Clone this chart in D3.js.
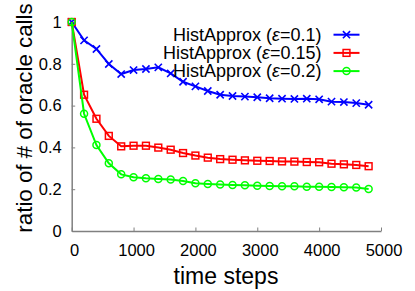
<!DOCTYPE html>
<html lang="en">

<head>
  <meta charset="UTF-8">
  <title>HistApprox oracle calls</title>
  <script src="https://cdn.jsdelivr.net/npm/d3@7.9.0/dist/d3.min.js"></script>
  <style>
    html,
    body {
      margin: 0;
      padding: 0;
      background: #fff;
    }

    svg {
      display: block;
      font-family: "Liberation Sans", Arial, sans-serif;
    }
  </style>
</head>

<body>
  <svg id="chart" width="415" height="291"></svg>

  <script>
    // time steps (x), one point every 200 steps
    const steps = [0, 200, 400, 600, 800, 1000, 1200, 1400, 1600, 1800, 2000, 2200, 2400,
      2600, 2800, 3000, 3200, 3400, 3600, 3800, 4000, 4200, 4400, 4600, 4800];

    // ratio of # of oracle calls
    const eps01 = [1.0, 0.912, 0.871, 0.799, 0.751, 0.770, 0.775, 0.783, 0.754, 0.714, 0.692, 0.670, 0.652,
      0.646, 0.643, 0.640, 0.635, 0.633, 0.632, 0.633, 0.630, 0.619, 0.617, 0.612, 0.604];
    const eps015 = [1.0, 0.652, 0.537, 0.455, 0.405, 0.408, 0.408, 0.399, 0.389, 0.373, 0.361, 0.351, 0.344,
      0.341, 0.338, 0.336, 0.335, 0.333, 0.332, 0.330, 0.329, 0.322, 0.319, 0.316, 0.310];
    const eps02 = [1.0, 0.561, 0.411, 0.324, 0.271, 0.257, 0.252, 0.249, 0.246, 0.239, 0.228, 0.225, 0.222,
      0.220, 0.219, 0.217, 0.215, 0.214, 0.214, 0.212, 0.212, 0.211, 0.209, 0.208, 0.201];

    const xTicks = [0, 1000, 2000, 3000, 4000, 5000];
    const yTicks = [0, 0.2, 0.4, 0.6, 0.8, 1];
    const seriesNames = ["0.1", "0.15", "0.2"];

    const series = [
      { eps: seriesNames[0], values: eps01, color: "#0000ff", marker: "cross" },
      { eps: seriesNames[1], values: eps015, color: "#ff0000", marker: "square" },
      { eps: seriesNames[2], values: eps02, color: "#00ff00", marker: "circle" },
    ];

    const svg = d3.select("#chart");
    const axisColor = "#808080";

    const x = d3.scaleLinear().domain([0, 5000]).range([71.7, 381]);
    const y = d3.scaleLinear().domain([0, 1]).range([231, 22]);

    // --- axes (gnuplot style: left + bottom only, ticks pointing inward) ---
    const xAxis = svg.append("g")
      .attr("transform", `translate(0,${y(0)})`)
      .call(d3.axisBottom(x).tickValues(xTicks).tickSizeInner(-3.5).tickSizeOuter(0).tickPadding(13)
        .tickFormat(d3.format("d")));
    const yAxis = svg.append("g")
      .attr("transform", `translate(${x(0)},0)`)
      .call(d3.axisLeft(y).tickValues(yTicks).tickSizeInner(-3.5).tickSizeOuter(0).tickPadding(10)
        .tickFormat(d3.format("~g")));

    [xAxis, yAxis].forEach(g => {
      g.select(".domain").attr("stroke", axisColor).attr("stroke-width", 1.5);
      g.selectAll(".tick line").attr("stroke", axisColor).attr("stroke-width", 1);
      g.selectAll(".tick text")
        .attr("fill", "#000")
        .style("font-size", "16.5px")
        .style("font-family", "'Liberation Sans', Arial, sans-serif");
    });
    xAxis.selectAll(".tick text").attr("dx", 2.5);

    // axis titles
    svg.append("text")
      .attr("x", 226)
      .attr("y", 284)
      .attr("text-anchor", "middle")
      .style("font-size", "23px")
      .text("time steps");

    svg.append("text")
      .attr("transform", `translate(32,${118}) rotate(-90)`)
      .attr("text-anchor", "middle")
      .style("font-size", "22.3px")
      .text("ratio of # of oracle calls");

    // --- markers ---
    const drawMarker = (g, type, color, cx, cy) => {
      if (type === "cross") {
        const s = 3.6;
        g.append("path")
          .attr("d", `M${cx - s},${cy - s}L${cx + s},${cy + s}M${cx - s},${cy + s}L${cx + s},${cy - s}`)
          .attr("stroke", color).attr("stroke-width", 1.6).attr("fill", "none");
      } else if (type === "square") {
        const s = 3.4;
        g.append("rect")
          .attr("x", cx - s).attr("y", cy - s).attr("width", 2 * s).attr("height", 2 * s)
          .attr("stroke", color).attr("stroke-width", 1.5).attr("fill", "none");
      } else {
        g.append("circle")
          .attr("cx", cx).attr("cy", cy).attr("r", 3.5)
          .attr("stroke", color).attr("stroke-width", 1.5).attr("fill", "none");
      }
    };

    const line = d3.line()
      .x((d, i) => x(steps[i]))
      .y(d => y(d));

    series.forEach(s => {
      const g = svg.append("g");
      g.append("path")
        .datum(s.values)
        .attr("d", line)
        .attr("fill", "none")
        .attr("stroke", s.color)
        .attr("stroke-width", 2);
      s.values.forEach((v, i) => drawMarker(g, s.marker, s.color, x(steps[i]), y(v)));
    });

    // --- legend ---
    const legend = svg.append("g");
    series.forEach((s, i) => {
      const ly = 34.7 + i * 18.2;
      const t = legend.append("text")
        .attr("x", 321.5)
        .attr("y", ly + 6)
        .attr("text-anchor", "end")
        .style("font-size", "18px");
      t.append("tspan").text("HistApprox (");
      t.append("tspan").style("font-style", "italic").text("ε");
      t.append("tspan").text("=" + s.eps + ")");

      legend.append("line")
        .attr("x1", 333.5).attr("x2", 359.5)
        .attr("y1", ly).attr("y2", ly)
        .attr("stroke", s.color).attr("stroke-width", 2);
      drawMarker(legend, s.marker, s.color, 346.5, ly);
    });
  </script>
</body>

</html>
